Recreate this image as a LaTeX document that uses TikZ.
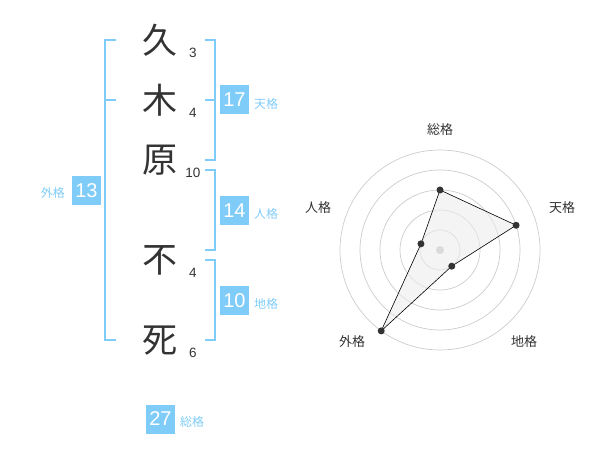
\documentclass[tikz,border=0pt]{standalone}
\usepackage{fontspec}
\setmainfont{Liberation Sans}
\newfontfamily\cjk{Noto Sans CJK JP}
\definecolor{lblue}{RGB}{128,204,248}
\definecolor{dk}{RGB}{51,51,51}
\begin{document}
\begin{tikzpicture}[x=1pt,y=-1pt,
 kanji/.style={font=\cjk\fontsize{35}{35}\selectfont, text=dk, inner sep=0},
 strokes/.style={font=\fontsize{13.5}{13.5}\selectfont, text=dk, inner sep=0},
 valbox/.style={fill=lblue, text=white, minimum size=29pt, inner sep=0, font=\fontsize{20}{20}\selectfont},
 kaku/.style={font=\cjk\fontsize{12}{12}\selectfont, text=lblue, inner sep=0},
 brk/.style={draw=lblue, line width=2pt, line join=miter},
 ring/.style={draw=gray!40, line width=0.7pt},
 axlbl/.style={font=\cjk\fontsize{13}{13}\selectfont, text=dk, inner sep=0},
 radarpt/.style={circle, fill=dk, inner sep=0, minimum size=7pt}
]
\useasboundingbox (0,0) rectangle (600,470);
% name characters
\node[kanji] (k1) at (160,40) {久};
\node[kanji] (k2) at (160,100) {木};
\node[kanji] (k3) at (160,160) {原};
\node[kanji] (k4) at (160,260) {不};
\node[kanji] (k5) at (160,341) {死};
% stroke counts
\node[strokes] (s1) at (193,53) {3};
\node[strokes] (s2) at (193,113) {4};
\node[strokes] (s3) at (193,173) {10};
\node[strokes] (s4) at (193,273) {4};
\node[strokes] (s5) at (193,353) {6};
% brackets
\draw[brk] (116,40) -- (105,40) -- (105,340) -- (116,340);
\draw[brk] (105,100) -- (116,100);
\draw[brk] (205,40) -- (214.5,40) -- (214.5,160) -- (205,160);
\draw[brk] (205,100) -- (214.5,100);
\draw[brk] (205,170) -- (214.5,170) -- (214.5,250) -- (205,250);
\draw[brk] (205,260) -- (214.5,260) -- (214.5,340) -- (205,340);
% value boxes
\node[valbox] (ten) at (234.5,100) {17};
\node[kaku, anchor=west] (tenl) at (254,104) {天格};
\node[valbox] (jin) at (234.5,210.5) {14};
\node[kaku, anchor=west] (jinl) at (254,214) {人格};
\node[valbox] (chi) at (234.5,300.5) {10};
\node[kaku, anchor=west] (chil) at (254,304) {地格};
\node[valbox] (gai) at (86.5,190.5) {13};
\node[kaku, anchor=east] (gail) at (65,193) {外格};
\node[valbox] (sou) at (160.5,419) {27};
\node[kaku, anchor=west] (soul) at (180,422) {総格};
% radar
\begin{scope}[shift={(440,250)}]
\foreach \r in {20,40,60,80,100} \draw[ring] (0,0) circle[radius=\r pt];
\fill[gray!50] (0,0) circle[radius=4pt];
\coordinate (pS) at (-90:60);
\coordinate (pT) at (-18:80);
\coordinate (pC) at (54:20);
\coordinate (pG) at (126:100);
\coordinate (pJ) at (198:20);
\fill[gray!15, fill opacity=0.6] (pS) -- (pT) -- (pC) -- (pG) -- (pJ) -- cycle;
\draw[black, line width=0.6pt] (pS) -- (pT) -- (pC) -- (pG) -- (pJ) -- cycle;
\foreach \p in {pS,pT,pC,pG,pJ} \node[radarpt] at (\p) {};
\end{scope}
\node[axlbl] (aS) at (440,130) {総格};
\node[axlbl] (aT) at (562,208) {天格};
\node[axlbl] (aC) at (524,342) {地格};
\node[axlbl] (aG) at (352,342) {外格};
\node[axlbl] (aJ) at (318,208) {人格};
\end{tikzpicture}
\end{document}
